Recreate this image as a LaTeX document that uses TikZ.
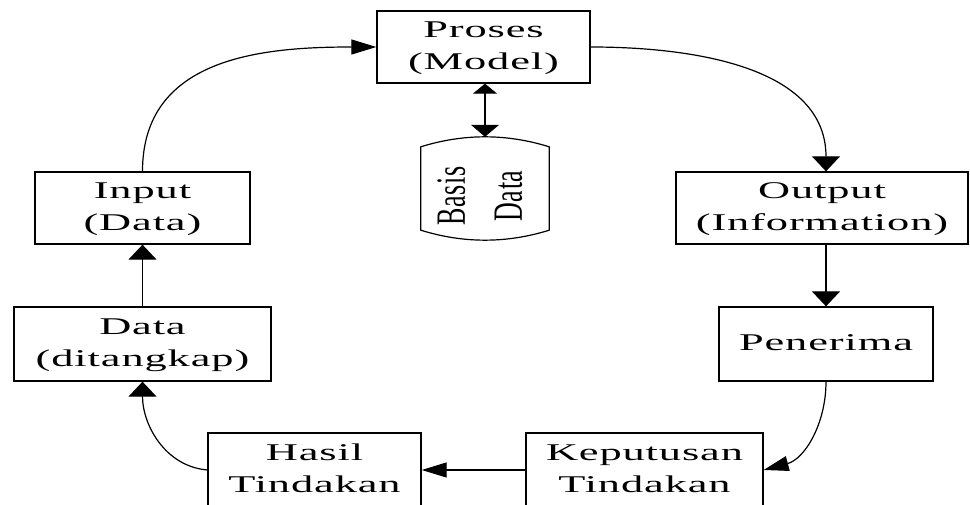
\documentclass[tikz,border=0pt]{standalone}
\usepackage{fontspec}
\setmainfont{Liberation Serif}[LetterSpace=2]
\usetikzlibrary{arrows.meta,calc}
\newcommand{\sx}[1]{\scalebox{1.85}[1]{\begin{tabular}{@{}c@{}}#1\end{tabular}}}
\begin{document}
\begin{tikzpicture}[x=1pt,y=1pt,
  box/.style={draw=black, line width=1.3pt, inner sep=0pt, font=\fontsize{24}{32}\selectfont},
  conn/.style={line width=1.2pt, draw=black},
  harr/.style={-{Triangle[length=25pt,width=15pt]}},
  varr/.style={-{Triangle[length=15pt,width=28pt]}},
]
\useasboundingbox (0,0) rectangle (970,504);
\node[box, minimum width=213pt, minimum height=72pt] (proses) at (483.5,457) {\sx{Proses\\(Model)}};
\node[box, minimum width=215pt, minimum height=72pt] (input) at (142.5,296) {\sx{Input\\(Data)}};
\node[box, minimum width=257pt, minimum height=74pt] (data) at (142.5,160) {\sx{Data\\(ditangkap)}};
\node[box, minimum width=213pt, minimum height=74pt] (hasil) at (314.5,34) {\sx{Hasil\\Tindakan}};
\node[box, minimum width=292pt, minimum height=72pt] (output) at (822,296) {\sx{Output\\(Information)}};
\node[box, minimum width=214pt, minimum height=74pt] (penerima) at (826,160) {\sx{Penerima}};
\node[box, minimum width=237pt, minimum height=74pt] (keputusan) at (644.5,34) {\sx{Keputusan\\Tindakan}};

% database cylinder
\node[inner sep=0pt, minimum width=128pt, minimum height=83pt] (db) at (485,315.5) {};
\node[inner sep=0pt, font=\fontsize{26}{35.6}\selectfont] (dblabel) at (482,308)
  {\scalebox{1.6}[1]{\rotatebox{90}{\begin{tabular}{@{}c@{}}Basis\\Data\end{tabular}}}};
\draw[conn] (db.south west) -- (db.north west)
  .. controls ($(db.north west)+(42.7,13.3)$) and ($(db.north east)+(-42.7,13.3)$) .. (db.north east)
  -- (db.south east)
  .. controls ($(db.south east)+(-42.7,-13.3)$) and ($(db.south west)+(42.7,-13.3)$) .. cycle;
\coordinate (dbtop) at ($(db.north)+(0,10)$);

% connectors
\draw[conn, {Triangle[length=10pt,width=24pt]}-{Triangle[length=12pt,width=28pt]}] (dbtop |- proses.south) -- (dbtop);
\draw[conn, harr] (input.north) to[out=90, in=180, looseness=1.1] (proses.west);
\draw[conn, varr] (proses.east) to[out=0, in=90] (penerima.north |- output.north);
\draw[conn, varr] (penerima.north |- output.south) -- (penerima.north);
\draw[conn, harr] (penerima.south) to[out=-90, in=15] (keputusan.east);
\draw[conn, harr] (keputusan.west) -- (hasil.east);
\draw[conn, varr] (hasil.west) to[out=175, in=-90] (data.south);
\draw[conn, varr] (data.north) -- (input.south);
\end{tikzpicture}
\end{document}
